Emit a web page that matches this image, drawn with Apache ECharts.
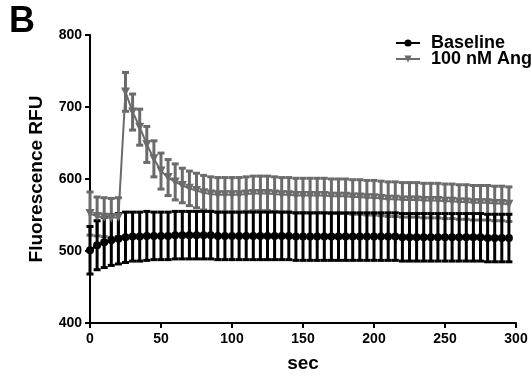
<!DOCTYPE html>
<html>
<head>
<meta charset="utf-8">
<script src="https://cdn.jsdelivr.net/npm/echarts@6/dist/echarts.min.js"></script>
<style>
  html, body { margin: 0; padding: 0; background: #fff; }
  #chart { width: 531px; height: 381px; }
</style>
</head>
<body>
<div id="chart"></div>
<script>
const times = [0, 5, 10, 15, 20, 25, 30, 35, 40, 45, 50, 55, 60, 65, 70, 75, 80, 85, 90, 95,
  100, 105, 110, 115, 120, 125, 130, 135, 140, 145, 150, 155, 160, 165, 170, 175, 180, 185, 190, 195,
  200, 205, 210, 215, 220, 225, 230, 235, 240, 245, 250, 255, 260, 265, 270, 275, 280, 285, 290, 295];

const baselineMean = [501, 508, 512, 515, 517, 519, 520, 520, 521, 521, 521, 521, 522, 522, 522, 522, 522, 522, 521, 521,
  521, 521, 521, 521, 521, 521, 521, 521, 521, 520, 520, 520, 520, 520, 520, 520, 520, 520, 520, 520,
  520, 520, 520, 520, 519, 519, 519, 519, 519, 519, 519, 519, 519, 519, 519, 519, 518, 518, 518, 518];
const baselineErr = [33, 34, 35, 35, 35, 35, 34, 34, 34, 33, 33, 33, 33, 33, 33, 33, 33, 33, 33, 33,
  33, 33, 33, 33, 33, 33, 33, 33, 33, 33, 33, 33, 33, 33, 33, 33, 33, 33, 33, 33,
  33, 33, 33, 33, 33, 33, 33, 33, 33, 33, 33, 33, 33, 33, 33, 33, 33, 33, 33, 33];

const angMean = [552, 548, 547, 546, 547, 721, 693, 672, 648, 628, 611, 602, 596, 591, 587, 584, 581, 579, 578, 578,
  578, 578, 579, 580, 580, 580, 579, 578, 578, 577, 577, 577, 577, 577, 576, 576, 576, 575, 575, 574,
  574, 573, 572, 572, 571, 571, 571, 570, 570, 570, 569, 569, 568, 568, 567, 567, 567, 566, 566, 565];
const angErr = [30, 27, 27, 27, 27, 27, 25, 25, 25, 25, 25, 25, 25, 24, 24, 24, 24, 24, 24, 24,
  24, 24, 24, 24, 24, 24, 24, 24, 24, 24, 24, 24, 24, 24, 24, 24, 24, 24, 24, 24,
  24, 24, 24, 24, 24, 24, 24, 24, 24, 24, 24, 24, 24, 24, 24, 24, 24, 24, 24, 24];

const BLACK = "#000000";
const GRAY = "#6b6b6b";
const FONT = "Liberation Sans";

function errorSeries(name, mean, err, color) {
  return {
    name: name + " err",
    type: "custom",
    data: times.map((t, i) => [t, mean[i] - err[i], mean[i] + err[i]]),
    encode: { x: 0, y: [1, 2] },
    renderItem: (params, api) => {
      const lo = api.coord([api.value(0), api.value(1)]);
      const hi = api.coord([api.value(0), api.value(2)]);
      const hw = 3.5;
      const style = { stroke: color, lineWidth: 3 };
      return {
        type: "group",
        children: [
          { type: "line", shape: { x1: lo[0], y1: lo[1], x2: hi[0], y2: hi[1] }, style },
          { type: "line", shape: { x1: hi[0] - hw, y1: hi[1], x2: hi[0] + hw, y2: hi[1] }, style },
          { type: "line", shape: { x1: lo[0] - hw, y1: lo[1], x2: lo[0] + hw, y2: lo[1] }, style },
        ],
      };
    },
    silent: true,
  };
}

const chart = echarts.init(document.getElementById("chart"), null, { renderer: "canvas" });

chart.setOption({
  animation: false,
  backgroundColor: "#fff",
  textStyle: { fontFamily: FONT },
  graphic: [
    {
      type: "text", left: 9, top: 4,
      style: { text: "B", font: "bold 36px " + FONT, fill: "#000" },
    },
  ],
  legend: {
    orient: "vertical",
    left: 390,
    top: 29,
    itemGap: -2,
    itemWidth: 24,
    itemHeight: 9,
    data: ["Baseline", "100 nM Ang II"],
    textStyle: {
      fontFamily: FONT, fontWeight: "bold", fontSize: 18, color: "#000",
      padding: [0, 0, 0, 6],
    },
  },
  grid: { left: 90, right: 15, top: 35, bottom: 58 },
  xAxis: {
    type: "value",
    min: 0, max: 300, interval: 50,
    name: "sec",
    nameLocation: "middle",
    nameGap: 31,
    nameTextStyle: { fontFamily: FONT, fontWeight: "bold", fontSize: 19, color: "#000" },
    axisLine: { lineStyle: { color: "#000", width: 2 } },
    axisTick: { length: 5, lineStyle: { color: "#000", width: 2 } },
    axisLabel: { fontFamily: FONT, fontWeight: "bold", fontSize: 14, color: "#000", margin: 9 },
    splitLine: { show: false },
  },
  yAxis: {
    type: "value",
    min: 400, max: 800, interval: 100,
    name: "Fluorescence RFU",
    nameLocation: "middle",
    nameGap: 44,
    nameTextStyle: { fontFamily: FONT, fontWeight: "bold", fontSize: 19, color: "#000" },
    axisLine: { show: true, lineStyle: { color: "#000", width: 2 } },
    axisTick: { show: true, length: 5, lineStyle: { color: "#000", width: 2 } },
    axisLabel: { fontFamily: FONT, fontWeight: "bold", fontSize: 14, color: "#000", margin: 8 },
    splitLine: { show: false },
  },
  series: [
    errorSeries("100 nM Ang II", angMean, angErr, GRAY),
    {
      name: "100 nM Ang II",
      type: "line",
      data: times.map((t, i) => [t, angMean[i]]),
      symbol: "triangle",
      symbolRotate: 180,
      symbolSize: 9,
      itemStyle: { color: GRAY },
      lineStyle: { color: GRAY, width: 2 },
    },
    errorSeries("Baseline", baselineMean, baselineErr, BLACK),
    {
      name: "Baseline",
      type: "line",
      data: times.map((t, i) => [t, baselineMean[i]]),
      symbol: "circle",
      symbolSize: 8,
      itemStyle: { color: BLACK },
      lineStyle: { color: BLACK, width: 2.5 },
    },
  ],
});
</script>
</body>
</html>
